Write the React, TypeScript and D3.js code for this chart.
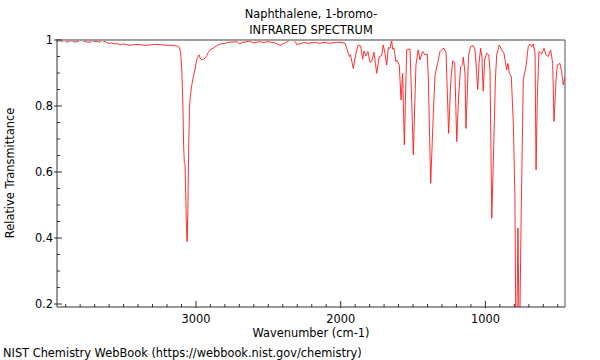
import React from 'react';
import * as d3 from 'd3';

// spectrum (cm-1, relative transmittance)
const wavenumbers = [
  3960, 3945, 3925, 3905, 3891, 3872, 3856, 3840, 3822, 3805, 3787, 3770, 3753, 3732, 3718, 3700,
  3684, 3665, 3649, 3628, 3608, 3585, 3559, 3540, 3525, 3505, 3490, 3470, 3456, 3420, 3387, 3350,
  3317, 3280, 3248, 3210, 3179, 3150, 3131, 3115, 3105, 3097, 3090, 3085, 3080, 3076, 3072, 3066,
  3061, 3056, 3050, 3045, 3041, 3030, 3018, 3005, 2995, 2985, 2979, 2970, 2960, 2949, 2938, 2926,
  2915, 2903, 2880, 2860, 2834, 2800, 2770, 2740, 2718, 2696, 2680, 2661, 2640, 2627, 2610, 2592,
  2575, 2557, 2540, 2523, 2505, 2488, 2465, 2447, 2430, 2419, 2405, 2392, 2375, 2364, 2350, 2343,
  2330, 2323, 2310, 2302, 2290, 2281, 2265, 2247, 2230, 2212, 2195, 2177, 2160, 2143, 2125, 2108,
  2090, 2074, 2055, 2039, 2020, 2005, 1985, 1970, 1954, 1940, 1932, 1913, 1894, 1878, 1862, 1848,
  1839, 1825, 1811, 1797, 1786, 1770, 1751, 1733, 1717, 1706, 1694, 1682, 1671, 1659, 1648, 1641,
  1632, 1618, 1609, 1595, 1583, 1572, 1560, 1544, 1521, 1512, 1498, 1480, 1464, 1452, 1433, 1417,
  1402, 1395, 1378, 1360, 1348, 1330, 1314, 1300, 1286, 1272, 1254, 1240, 1226, 1212, 1198, 1185,
  1171, 1157, 1153, 1141, 1134, 1125, 1116, 1102, 1084, 1072, 1060, 1053, 1044, 1033, 1024, 1015,
  1005, 991, 977, 968, 956, 945, 931, 922, 904, 888, 872, 853, 844, 835, 821, 807,
  796, 790, 782, 775, 768, 762, 752, 738, 720, 704, 692, 680, 669, 657, 650, 641,
  630, 611, 595, 582, 566, 549, 535, 526, 512, 503, 485, 473, 462, 450,
];
const transmittance = [
  0.995, 0.998, 0.996, 0.999, 0.993, 0.997, 0.998, 0.994, 0.995, 0.998, 0.999, 0.996, 0.994, 0.993, 0.998, 0.995,
  0.996, 0.993, 0.999, 0.995, 0.99, 0.991, 0.988, 0.989, 0.985, 0.988, 0.987, 0.985, 0.984, 0.986, 0.986, 0.984,
  0.985, 0.987, 0.986, 0.984, 0.984, 0.983, 0.982, 0.978, 0.96, 0.9, 0.8, 0.68, 0.628, 0.625, 0.56, 0.44,
  0.389, 0.48, 0.68, 0.79, 0.818, 0.86, 0.889, 0.915, 0.94, 0.95, 0.955, 0.945, 0.94, 0.941, 0.945, 0.952,
  0.962, 0.97, 0.975, 0.982, 0.988, 0.99, 0.993, 0.994, 0.995, 0.988, 0.993, 0.993, 0.996, 0.996, 0.992, 0.992,
  0.994, 0.995, 0.992, 0.993, 0.995, 0.994, 0.992, 0.99, 0.986, 0.983, 0.987, 0.99, 0.993, 0.996, 0.999, 1.0,
  0.999, 0.998, 0.992, 0.985, 0.988, 0.988, 0.991, 0.992, 0.99, 0.991, 0.992, 0.993, 0.991, 0.99, 0.992, 0.993,
  0.991, 0.99, 0.992, 0.992, 0.993, 0.993, 0.992, 0.99, 0.97, 0.95, 0.955, 0.914, 0.96, 0.985, 0.982, 0.942,
  0.967, 0.952, 0.965, 0.932, 0.935, 0.963, 0.899, 0.95, 0.952, 0.985, 0.96, 0.924, 0.977, 0.975, 1.0, 0.972,
  0.976, 0.934, 0.938, 0.924, 0.818, 0.899, 0.682, 0.97, 0.973, 0.854, 0.652, 0.924, 0.97, 0.94, 0.965, 0.955,
  0.958, 0.894, 0.566, 0.773, 0.894, 0.929, 0.965, 0.972, 0.975, 0.962, 0.717, 0.869, 0.937, 0.93, 0.692, 0.828,
  0.919, 0.925, 0.948, 0.9, 0.732, 0.84, 0.955, 0.98, 0.983, 0.972, 0.899, 0.85, 0.929, 0.975, 0.95, 0.845,
  0.94, 0.96, 0.955, 0.909, 0.46, 0.636, 0.879, 0.955, 0.985, 0.97, 0.96, 0.909, 0.929, 0.899, 0.889, 0.747,
  0.525, 0.15, 0.15, 0.43, 0.15, 0.15, 0.5, 0.879, 0.919, 0.98, 0.988, 0.98, 0.988, 0.96, 0.606, 0.828,
  0.965, 0.958, 0.975, 0.955, 0.95, 0.97, 0.929, 0.753, 0.879, 0.924, 0.929, 0.904, 0.864, 0.889,
];

const xTicks = [3000, 2000, 1000];
const yTicks = [0.2, 0.4, 0.6, 0.8, 1];
const yTickLabels = ['0.2', '0.4', '0.6', '0.8', '1'];

const width = 600;
const height = 360;
const left = 57, right = 565, top = 40, bottom = 307;

export default function App() {
  const x = d3.scaleLinear().domain([3960, 450]).range([left, right]);
  const y = d3.scaleLinear().domain([0.191, 1]).range([bottom, top]);

  const points = wavenumbers.map((w, i) => [w, transmittance[i]] as [number, number]);
  const line = d3.line<[number, number]>()
    .x(d => x(d[0]))
    .y(d => y(d[1]));

  const xMinor = d3.range(500, 3960, 100).filter(v => v % 1000 !== 0);
  const yMinor = d3.range(0.25, 1, 0.05).filter(v => Math.abs(v * 5 - Math.round(v * 5)) > 0.01);

  const font = { fontFamily: 'DejaVu Sans', fontSize: 11.4, fill: '#000' };

  return (
    <svg width={width} height={height} style={{ position: 'absolute', left: 0, top: 0, background: '#fff' }}>
      <defs>
        <clipPath id="plot">
          <rect x={left} y={top} width={right - left} height={bottom - top} />
        </clipPath>
      </defs>

      <text x={311} y={18} textAnchor="middle" style={font}>Naphthalene, 1-bromo-</text>
      <text x={311} y={34} textAnchor="middle" style={font}>INFRARED SPECTRUM</text>

      <path d={line(points) ?? ''} fill="none" stroke="#ff1a1a" strokeWidth={0.9} clipPath="url(#plot)" />

      {/* frame */}
      <line x1={left} x2={right} y1={top} y2={top} stroke="#a0a0a0" strokeWidth={2} />
      <line x1={right} x2={right} y1={top} y2={bottom} stroke="#555" strokeWidth={1} />
      <line x1={left} x2={left} y1={top - 1} y2={bottom} stroke="#333" strokeWidth={1} />
      <line x1={left} x2={right} y1={bottom} y2={bottom} stroke="#333" strokeWidth={1} />

      {xMinor.map(v => (
        <line key={'xm' + v} x1={x(v)} x2={x(v)} y1={bottom} y2={bottom - 3} stroke="#333" />
      ))}
      {xTicks.map(v => (
        <g key={'x' + v}>
          <line x1={x(v)} x2={x(v)} y1={bottom + 1} y2={bottom - 6} stroke="#333" />
          <text x={x(v)} y={323} textAnchor="middle" style={font}>{v}</text>
        </g>
      ))}

      {yMinor.map(v => (
        <line key={'ym' + v} x1={left} x2={left + 3} y1={y(v)} y2={y(v)} stroke="#333" />
      ))}
      {yTicks.map((v, i) => (
        <g key={'y' + v}>
          <line x1={left - 3} x2={left + 5} y1={y(v)} y2={y(v)} stroke="#333" />
          <text x={left - 4} y={y(v) + 4.2} textAnchor="end" style={font}>{yTickLabels[i]}</text>
        </g>
      ))}

      <text x={311} y={337} textAnchor="middle" style={font}>Wavenumber (cm-1)</text>
      <text transform="translate(14,173) rotate(-90)" textAnchor="middle" style={font}>Relative Transmittance</text>
      <text x={3} y={357} style={font}>NIST Chemistry WebBook (https://webbook.nist.gov/chemistry)</text>
    </svg>
  );
}
